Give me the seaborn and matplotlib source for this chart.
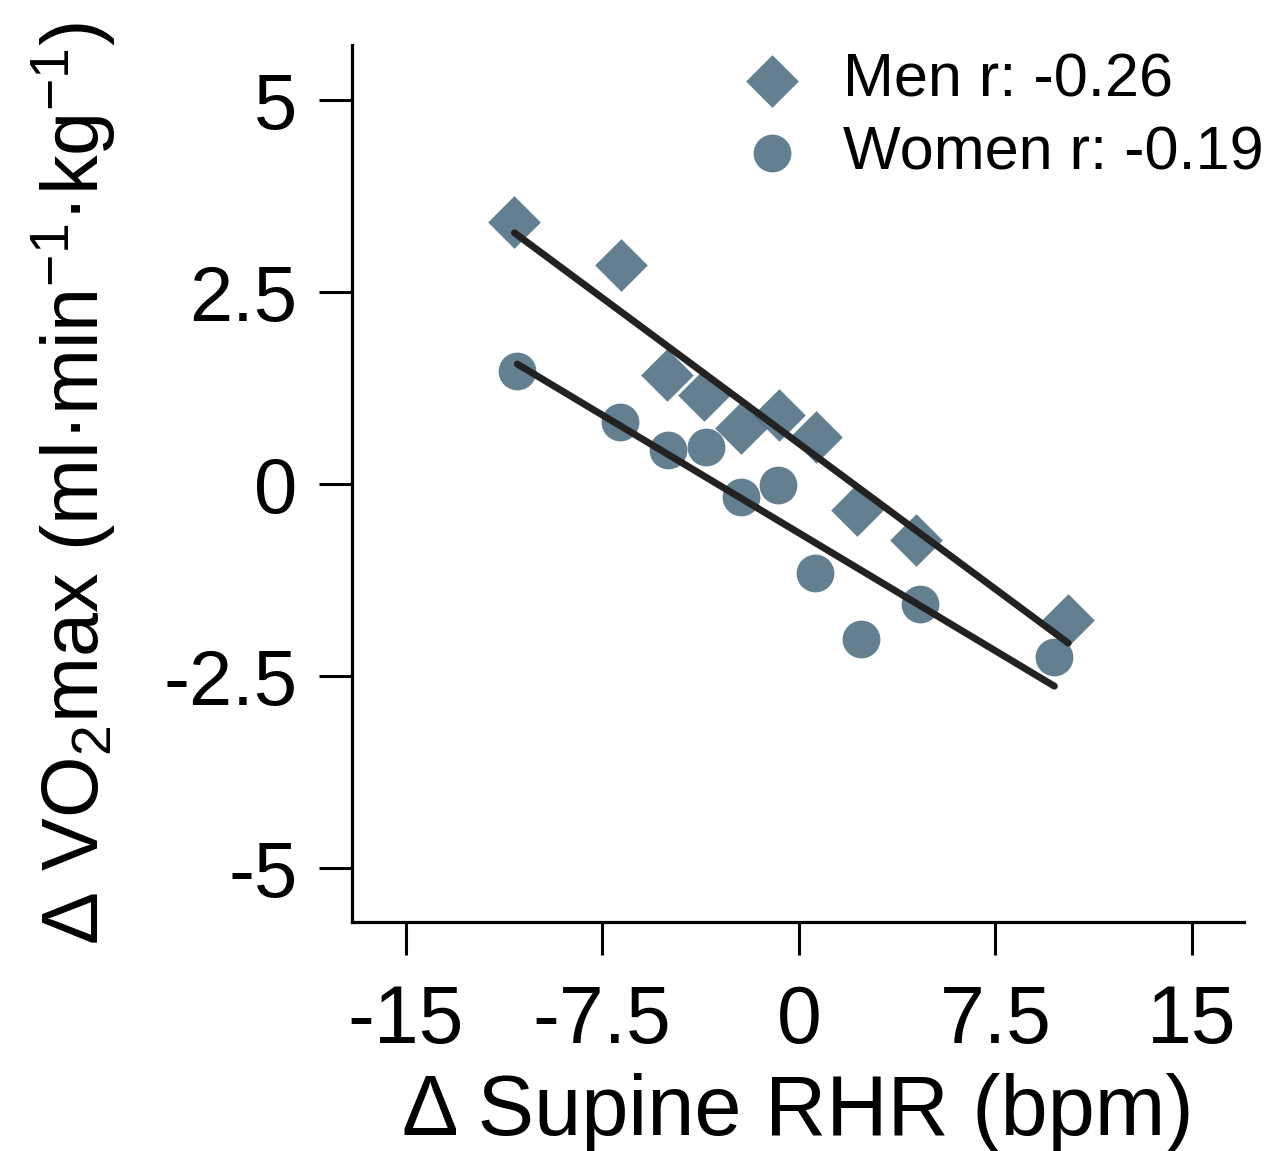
import numpy as np
import pandas as pd
import matplotlib
matplotlib.use("Agg")
import matplotlib.pyplot as plt
import seaborn as sns

# valores
men_rhr = [-10.85, -6.78, -5.03, -3.62, -2.21, -0.76, 0.65, 2.21, 4.49, 10.28]
men_vo2 = [3.41, 2.85, 1.42, 1.16, 0.73, 0.90, 0.61, -0.34, -0.73, -1.77]
women_rhr = [-10.74, -6.81, -4.99, -3.54, -2.21, -0.80, 0.61, 2.36, 4.64, 9.75]
women_vo2 = [1.48, 0.81, 0.44, 0.48, -0.17, -0.01, -1.15, -2.01, -1.56, -2.25]

legend_labels = ['Men r: -0.26', 'Women r: -0.19']
x_ticks = [-15, -7.5, 0, 7.5, 15]
x_ticklabels = ['-15', '-7.5', '0', '7.5', '15']
y_ticks = [-5, -2.5, 0, 2.5, 5]
y_ticklabels = ['-5', '-2.5', '0', '2.5', '5']

men = pd.DataFrame({'rhr': men_rhr, 'vo2': men_vo2})
women = pd.DataFrame({'rhr': women_rhr, 'vo2': women_vo2})

sns.set_style('ticks')
plt.rcParams['font.family'] = ['Liberation Sans', 'DejaVu Sans']
plt.rcParams['mathtext.fontset'] = 'custom'
plt.rcParams['mathtext.rm'] = 'Liberation Sans'
plt.rcParams['mathtext.it'] = 'Liberation Sans'
plt.rcParams['mathtext.bf'] = 'Liberation Sans:bold'
plt.rcParams['text.color'] = 'black'
plt.rcParams['axes.labelcolor'] = 'black'
plt.rcParams['xtick.color'] = 'black'
plt.rcParams['ytick.color'] = 'black'
plt.rcParams['axes.edgecolor'] = 'black'

marker_color = '#49697d'
line_color = '#222222'

fig = plt.figure(figsize=(12.75, 11.51), dpi=100)
ax = fig.add_axes([0.276, 0.199, 0.700, 0.762])

sns.scatterplot(data=men, x='rhr', y='vo2', marker='D', s=720, color=marker_color,
                alpha=0.85, linewidth=0, label=legend_labels[0], ax=ax)
sns.scatterplot(data=women, x='rhr', y='vo2', marker='o', s=740, color=marker_color,
                alpha=0.85, linewidth=0, label=legend_labels[1], ax=ax)

# retas de regressão por cima dos pontos
sns.regplot(data=men, x='rhr', y='vo2', scatter=False, ci=None, truncate=True,
            line_kws={'color': line_color, 'lw': 5, 'zorder': 5}, ax=ax)
sns.regplot(data=women, x='rhr', y='vo2', scatter=False, ci=None, truncate=True,
            line_kws={'color': line_color, 'lw': 5, 'zorder': 5}, ax=ax)

ax.set_xlim(-17.05, 17.0)
ax.set_ylim(-5.7, 5.72)
ax.set_xticks(x_ticks)
ax.set_xticklabels(x_ticklabels)
ax.set_yticks(y_ticks)
ax.set_yticklabels(y_ticklabels)

sns.despine(ax=ax)
for side in ['left', 'bottom']:
    ax.spines[side].set_linewidth(2.3)
ax.tick_params(axis='both', direction='out', length=24, width=2.2)
ax.tick_params(axis='x', labelsize=58, pad=21)
ax.tick_params(axis='y', labelsize=56, pad=15)

ax.set_xlabel('Δ Supine RHR (bpm)', fontsize=61)
ax.set_ylabel(r'Δ VO$_2$max (ml·min$^{-1}$·kg$^{-1}$)', fontsize=57)
ax.xaxis.set_label_coords(0.5, -0.172)
ax.yaxis.set_label_coords(-0.262, 0.5)

ax.legend(loc='upper left', bbox_to_anchor=(0.5816, 0.954), bbox_transform=fig.transFigure,
          frameon=False, fontsize=44, handlelength=1.0, handletextpad=0.66,
          labelspacing=0.25, borderpad=0, borderaxespad=0)

fig.savefig('out.png', dpi=100)
